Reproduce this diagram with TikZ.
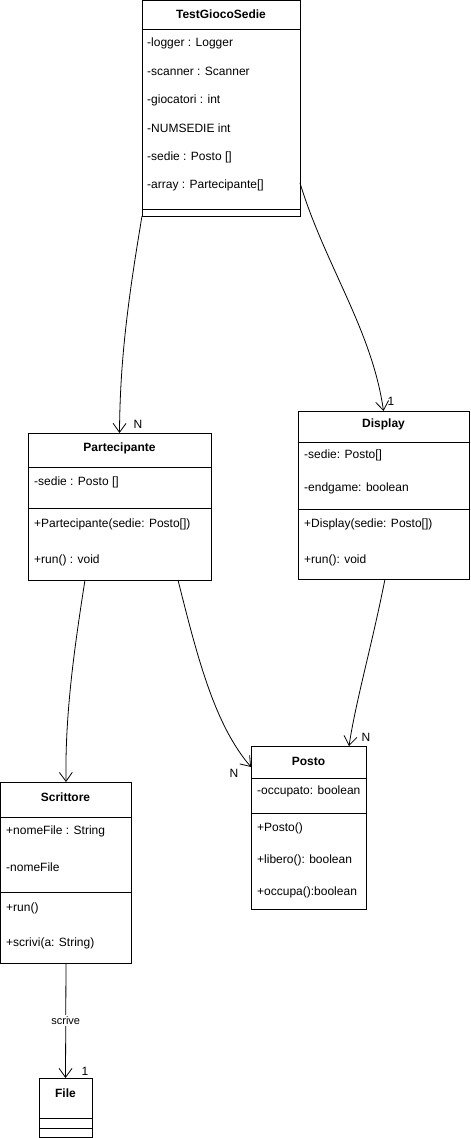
\documentclass[tikz,border=0pt]{standalone}
\usepackage{fontspec}
\setmainfont{Liberation Sans}
\usetikzlibrary{arrows.meta,calc}
\begin{document}
\begin{tikzpicture}[x=1pt,y=-1pt,
  every node/.style={font=\fontsize{12pt}{14pt}\selectfont},
  classbox/.style={draw, line width=0.9pt, anchor=north west, inner sep=0pt, outer sep=0pt},
  sep/.style={line width=0.9pt},
  ctitle/.style={font=\fontsize{12pt}{14pt}\selectfont\bfseries, inner sep=0pt},
  member/.style={anchor=west, inner sep=0pt},
  assoc/.style={line width=0.8pt, -{Straight Barb[length=9pt,width=13pt,line width=0.8pt]}},
  mult/.style={inner sep=0pt}]
\useasboundingbox (0,0) rectangle (471,1138);

% TestGiocoSedie
\node[classbox, minimum width=158pt, minimum height=216pt] (tgs) at (142,0) {};
\node[ctitle] (tgs-t) at (221,14) {TestGiocoSedie};
\draw[sep] (142,29) -- (300,29);
\node[member] (tgs-a1) at (147,43) {-logger : Logger};
\node[member] (tgs-a2) at (147,71) {-scanner : Scanner};
\node[member] (tgs-a3) at (147,100) {-giocatori : int};
\node[member] (tgs-a4) at (147,128) {-NUMSEDIE int};
\node[member] (tgs-a5) at (147,157) {-sedie : Posto []};
\node[member] (tgs-a6) at (147,185) {-array : Partecipante[]};
\draw[sep] (142,209) -- (300,209);

% Partecipante
\node[classbox, minimum width=183pt, minimum height=147pt] (par) at (28,433) {};
\node[ctitle] (par-t) at (119.5,448) {Partecipante};
\draw[sep] (28,467) -- (211,467);
\node[member] (par-a1) at (34,482) {-sedie : Posto []};
\draw[sep] (28,508) -- (211,508);
\node[member] (par-m1) at (34,524) {+Partecipante(sedie: Posto[])};
\node[member] (par-m2) at (34,560) {+run() : void};

% Display
\node[classbox, minimum width=171pt, minimum height=168pt] (dis) at (298,411) {};
\node[ctitle] (dis-t) at (383.5,424) {Display};
\draw[sep] (298,442) -- (469,442);
\node[member] (dis-a1) at (304,455) {-sedie: Posto[]};
\node[member] (dis-a2) at (304,488) {-endgame: boolean};
\draw[sep] (298,509) -- (469,509);
\node[member] (dis-m1) at (304,524) {+Display(sedie: Posto[])};
\node[member] (dis-m2) at (304,560) {+run(): void};

% Scrittore
\node[classbox, minimum width=131pt, minimum height=181pt] (scr) at (0.5,782) {};
\node[ctitle] (scr-t) at (65.5,797) {Scrittore};
\draw[sep] (0.5,817) -- (131,817);
\node[member] (scr-a1) at (6,831) {+nomeFile : String};
\node[member] (scr-a2) at (6,867) {-nomeFile};
\draw[sep] (0.5,892) -- (131,892);
\node[member] (scr-m1) at (6,908) {+run()};
\node[member] (scr-m2) at (6,943) {+scrivi(a: String)};

% Posto
\node[classbox, minimum width=115pt, minimum height=163pt] (pos) at (251,746) {};
\node[ctitle] (pos-t) at (308.5,761) {Posto};
\draw[sep] (251,778) -- (366,778);
\node[member] (pos-a1) at (257,791) {-occupato: boolean};
\draw[sep] (251,813) -- (366,813);
\node[member] (pos-m1) at (257,828) {+Posto()};
\node[member] (pos-m2) at (257,860) {+libero(): boolean};
\node[member] (pos-m3) at (257,892) {+occupa():boolean};

% File
\node[classbox, minimum width=53pt, minimum height=59pt] (fil) at (39,1078) {};
\node[ctitle] (fil-t) at (65.5,1093) {File};
\draw[sep] (39,1118) -- (92,1118);
\draw[sep] (39,1128) -- (92,1128);

% Associations
\draw[assoc] (tgs.south west) .. controls (128,300) and (120,360) .. (par.north);
\node[mult] (m1) at (138,424) {N};
\draw[assoc] ($(tgs.north east)+(0,183)$) .. controls (325,265) and (372,330) .. (dis.north);
\node[mult] (m2) at (391,401) {1};
\draw[assoc] ($(par.south west)+(57,0)$) .. controls (74,650) and (65,715) .. (scr.north);
\draw[assoc] ($(par.south west)+(150,0)$) .. controls (198,660) and (215,725) .. ($(pos.north west)+(0,21)$);
\node[mult] (m3) at (234,773) {N};
\draw[assoc] ($(dis.south west)+(87,0)$) .. controls (372,645) and (356,700) .. ($(pos.north west)+(98,0)$);
\node[mult] (m4) at (366,737) {N};
\draw[assoc] (scr.south) -- node[fill=white, inner sep=1pt, font=\fontsize{11pt}{13pt}\selectfont] (lbl) {scrive} (fil.north);
\node[mult] (m5) at (85,1071) {1};
\end{tikzpicture}
\end{document}
